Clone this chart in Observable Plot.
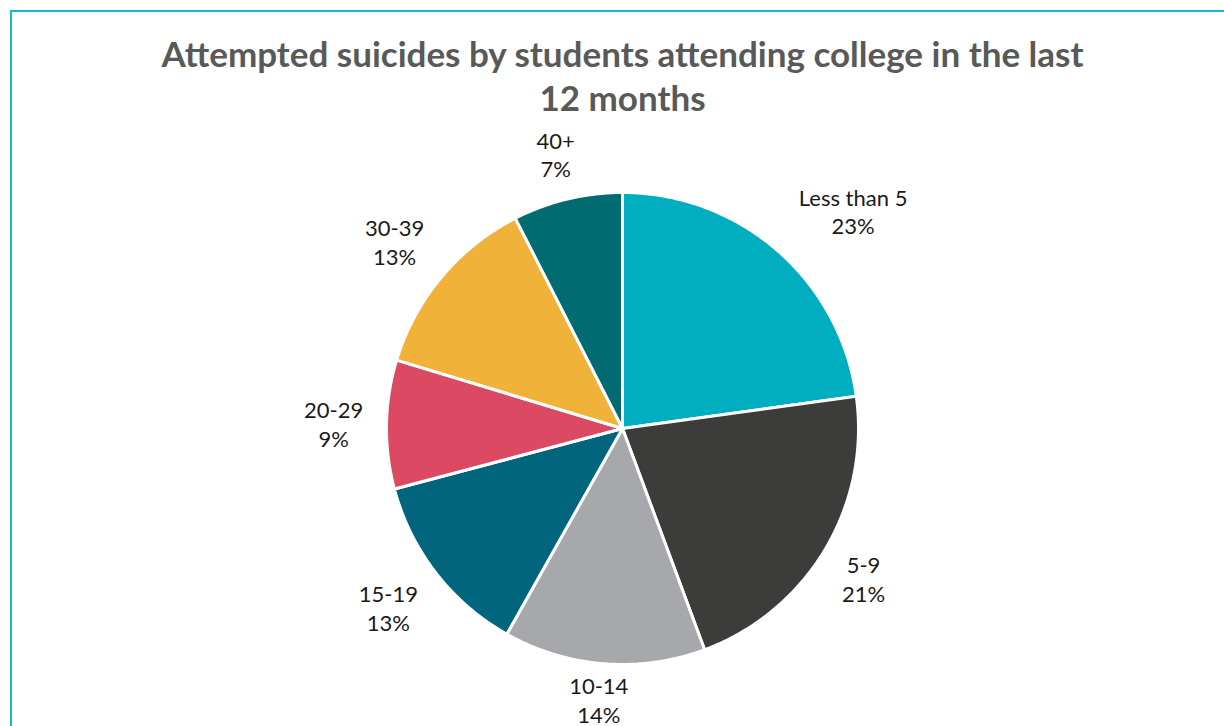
<!DOCTYPE html>
<html>
<head>
<meta charset="utf-8">
<script src="https://cdn.jsdelivr.net/npm/d3@7"></script>
<script src="https://cdn.jsdelivr.net/npm/@observablehq/plot@0.6"></script>
<style>
  html, body { margin: 0; padding: 0; background: #fff; overflow: hidden; width: 1224px; height: 726px; }
  #frame { position: absolute; left: 10px; top: 10px; width: 1400px; height: 900px;
           border-top: 2px solid #12BBCC; border-left: 2px solid #12BBCC; box-sizing: border-box; }
  #chart { position: absolute; left: 0; top: 0; }
</style>
</head>
<body>
<div id="frame"></div>
<div id="chart"></div>
<script>
// ---- data ----
const categories = ["Less than 5", "5-9", "10-14", "15-19", "20-29", "30-39", "40+"];
const shares = [22.8, 21.5, 13.8, 12.7, 8.8, 12.8, 7.5];
const percentLabels = ["23%", "21%", "14%", "13%", "9%", "13%", "7%"];
const colors = ["#00AFBF", "#3C3C3B", "#A7A8AB", "#00657D", "#DB4962", "#F0B238", "#006C72"];
const title = "Attempted suicides by students attending college in the last\n12 months";

// ---- layout ----
const W = 1224, H = 726;
const cx = 622, cy = 428, R = 236;
const labelFont = 22, labelGap = 26;

const pie = d3.pie().sort(null).value(d => d.value)(
  categories.map((c, i) => ({ key: c, value: shares[i], color: colors[i], pct: percentLabels[i] }))
);

// polygons in unit-circle data space (y up)
const slices = pie.map(p => {
  const pts = [{ x: 0, y: 0 }];
  const n = Math.max(8, Math.ceil((p.endAngle - p.startAngle) / 0.01));
  for (let k = 0; k <= n; k++) {
    const a = p.startAngle + (p.endAngle - p.startAngle) * k / n;
    pts.push({ x: Math.sin(a), y: Math.cos(a) });
  }
  pts.push({ x: 0, y: 0 });
  return { color: p.data.color, pts };
});

// keep label blocks inside the chart area (as the spreadsheet does)
const minLabelY = (cy - (H - 27)) / R;
const labels = pie.map(p => {
  const a = (p.startAngle + p.endAngle) / 2;
  const lines = [p.data.key, p.data.pct];
  const halfW = d3.max(lines, s => s.length) * labelFont * 0.245;
  const halfH = 20;
  const d = (R + labelGap) / R;
  const s = Math.sin(a), c = Math.cos(a);
  const ox = Math.sign(s) * halfW * Math.min(1, Math.abs(s) * 1.5);
  const oy = Math.sign(c) * halfH * Math.min(1, Math.abs(c) * 1.5);
  return {
    x: d * s + ox / R,
    y: Math.max(minLabelY, d * c + oy / R),
    text: lines.join("\n")
  };
});

const chart = Plot.plot({
  width: W,
  height: H,
  margin: 0,
  marginLeft: 20,
  x: { domain: [-1, 1], range: [cx - R, cx + R], axis: null },
  y: { domain: [-1, 1], range: [cy + R, cy - R], axis: null },
  style: { background: "transparent", overflow: "visible" },
  marks: [
    ...slices.map(s => Plot.line(s.pts, {
      x: "x", y: "y", fill: s.color, stroke: "white", strokeWidth: 3,
      strokeLinejoin: "round", curve: "linear"
    })),
    Plot.text(labels, {
      x: "x", y: "y", text: "text", lineAnchor: "middle", textAnchor: "middle",
      fontSize: labelFont, lineHeight: 1.3, fill: "#1a1a1a",
      fontFamily: "Lato, 'Open Sans', sans-serif"
    }),
    Plot.text([title], {
      frameAnchor: "top", dy: 74, lineAnchor: "middle", text: d => d,
      fontSize: 35, fontWeight: "bold", lineHeight: 1.26, fill: "#595959",
      fontFamily: "Lato, 'Open Sans', sans-serif"
    })
  ]
});
document.getElementById("chart").appendChild(chart);
</script>
</body>
</html>
